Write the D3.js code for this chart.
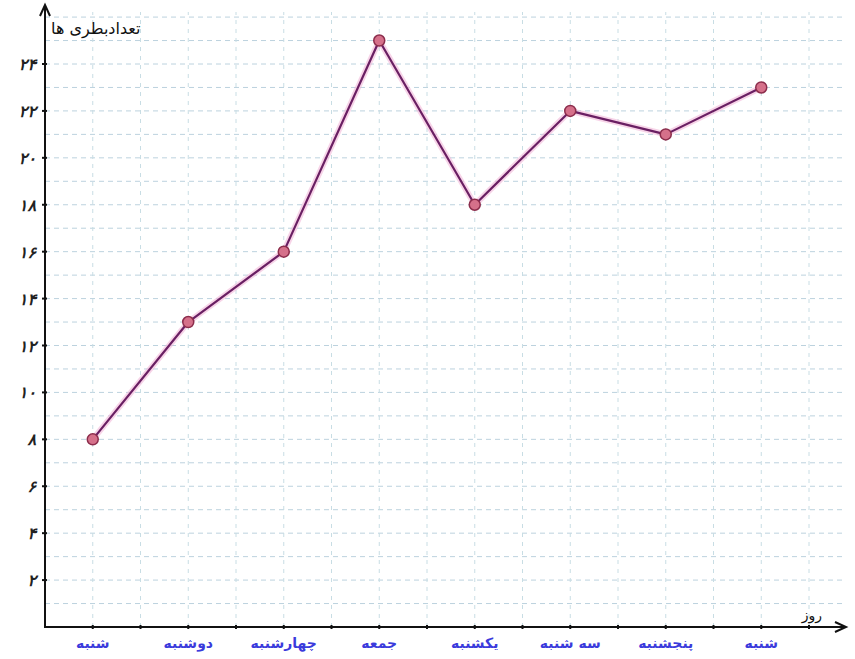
<!DOCTYPE html>
<html>
<head>
<meta charset="utf-8">
<script src="https://cdn.jsdelivr.net/npm/d3@7"></script>
<style>
  html, body { margin: 0; padding: 0; background: #fff; }
  svg { display: block; }
</style>
</head>
<body>
<svg id="chart" width="855" height="659"></svg>
<script>
// Days of the week and bottles counted per day
const days = ["شنبه", "دوشنبه", "چهارشنبه", "جمعه", "یکشنبه", "سه شنبه", "پنجشنبه", "شنبه"];
const bottles = [8, 13, 16, 25, 18, 22, 21, 23];
const yTicks = [2, 4, 6, 8, 10, 12, 14, 16, 18, 20, 22, 24];
const yTitle = "تعدادبطری ها";
const xTitle = "روز";

const toPersian = n => String(n).replace(/\d/g, d => "۰۱۲۳۴۵۶۷۸۹"[d]);

const svg = d3.select("#chart");
const originX = 45, originY = 627;

// Each day sits on an odd grid step; grid steps are half a day apart
const x = d3.scaleLinear().domain([0, 16]).range([originX, originX + 16 * 47.75]);
const y = d3.scaleLinear().domain([0, 24]).range([originY, 64]);
const dayPos = i => x(2 * i + 1);

// Grid
const grid = svg.append("g");
d3.range(1, 27).forEach(v => {
  grid.append("line")
    .attr("x1", originX).attr("x2", 842)
    .attr("y1", y(v)).attr("y2", y(v))
    .attr("stroke", "#bcd2de").attr("stroke-width", 1)
    .attr("stroke-dasharray", "5,4");
});
d3.range(1, 17).forEach(v => {
  grid.append("line")
    .attr("x1", x(v)).attr("x2", x(v))
    .attr("y1", originY).attr("y2", 12)
    .attr("stroke", "#c8dde4").attr("stroke-width", 1)
    .attr("stroke-dasharray", "4,5");
});

// Axes
const axisColor = "#111";
svg.append("line").attr("x1", originX).attr("x2", originX)
  .attr("y1", originY + 1).attr("y2", 6)
  .attr("stroke", axisColor).attr("stroke-width", 2);
svg.append("path").attr("d", `M${originX - 5},${16} L${originX},${5} L${originX + 5},${16}`)
  .attr("fill", "none").attr("stroke", axisColor).attr("stroke-width", 2);
svg.append("line").attr("x1", originX - 1).attr("x2", 846)
  .attr("y1", originY).attr("y2", originY)
  .attr("stroke", axisColor).attr("stroke-width", 2);
svg.append("path").attr("d", `M${835},${originY - 5} L${846},${originY} L${835},${originY + 5}`)
  .attr("fill", "none").attr("stroke", axisColor).attr("stroke-width", 2);

// Tick marks
d3.range(1, 17).forEach(v => {
  svg.append("line").attr("x1", x(v)).attr("x2", x(v))
    .attr("y1", originY - 2).attr("y2", originY + 2)
    .attr("stroke", axisColor).attr("stroke-width", 2);
});
yTicks.forEach(v => {
  svg.append("line").attr("x1", originX - 3).attr("x2", originX + 2)
    .attr("y1", y(v)).attr("y2", y(v))
    .attr("stroke", axisColor).attr("stroke-width", 2);
});

// Y tick labels
svg.append("g").selectAll("text").data(yTicks).join("text")
  .attr("x", originX - 9).attr("y", d => y(d) + 6)
  .attr("text-anchor", "end")
  .attr("font-family", "DejaVu Sans, sans-serif")
  .attr("font-size", 16).attr("font-weight", "bold").attr("font-style", "italic")
  .attr("fill", "#222")
  .text(d => toPersian(d));

// X labels
svg.append("g").selectAll("text").data(days).join("text")
  .attr("x", (d, i) => dayPos(i)).attr("y", 648)
  .attr("text-anchor", "middle")
  .attr("font-family", "DejaVu Sans, sans-serif")
  .attr("font-size", 14).attr("font-weight", "bold")
  .attr("fill", "#3b3bdc")
  .text(d => d);

// Axis titles
svg.append("text").attr("x", 51).attr("y", 34)
  .attr("text-anchor", "start")
  .attr("font-family", "DejaVu Sans, sans-serif").attr("font-size", 16)
  .attr("fill", "#111").text(yTitle);
svg.append("text").attr("x", 812).attr("y", 620)
  .attr("text-anchor", "middle")
  .attr("font-family", "DejaVu Sans, sans-serif").attr("font-size", 14)
  .attr("fill", "#111").text(xTitle);

// Data line with a soft halo
const line = d3.line().x((d, i) => dayPos(i)).y(d => y(d));
svg.append("path").datum(bottles).attr("d", line)
  .attr("fill", "none").attr("stroke", "#f2b8d8").attr("stroke-width", 6)
  .attr("stroke-opacity", 0.6).attr("stroke-linejoin", "round");
svg.append("path").datum(bottles).attr("d", line)
  .attr("fill", "none").attr("stroke", "#6a1f63").attr("stroke-width", 2.2)
  .attr("stroke-linejoin", "round");

svg.append("g").selectAll("circle").data(bottles).join("circle")
  .attr("cx", (d, i) => dayPos(i)).attr("cy", d => y(d))
  .attr("r", 5.5)
  .attr("fill", "#d5708a").attr("stroke", "#8c2d4c").attr("stroke-width", 1.5);
</script>
</body>
</html>
